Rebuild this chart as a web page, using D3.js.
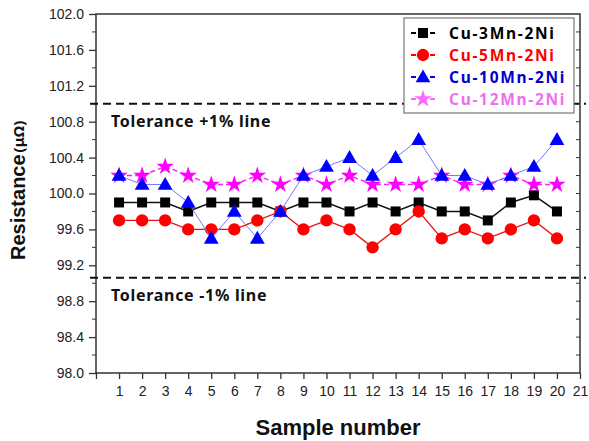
<!DOCTYPE html>
<html>
<head>
<meta charset="utf-8">
<script src="https://cdn.jsdelivr.net/npm/d3@7"></script>
<style>
  body { margin: 0; background: #fff; }
  svg { display: block; }
  .tick-label { font-family: "Liberation Sans", Arial, sans-serif; font-size: 14px; fill: #222; }
  .korean { font-family: "Noto Sans", "Noto Sans CJK KR", sans-serif; font-weight: 700; }
</style>
</head>
<body>
<svg id="chart" width="589" height="441"></svg>
<script>
// Sample numbers on the x axis
const Samples = d3.range(1, 21);
// Series values (resistance, micro-ohm)
const Cu3Mn = [99.9, 99.9, 99.9, 99.8, 99.9, 99.9, 99.9, 99.8, 99.9, 99.9, 99.8, 99.9, 99.8, 99.9, 99.8, 99.8, 99.7, 99.9, 99.98, 99.8];
const Cu5Mn = [99.7, 99.7, 99.7, 99.6, 99.6, 99.6, 99.7, 99.8, 99.6, 99.7, 99.6, 99.4, 99.6, 99.8, 99.5, 99.6, 99.5, 99.6, 99.7, 99.5];
const Cu10Mn = [100.2, 100.1, 100.1, 99.9, 99.5, 99.8, 99.5, 99.8, 100.2, 100.3, 100.4, 100.2, 100.4, 100.6, 100.2, 100.2, 100.1, 100.2, 100.3, 100.6];
const Cu12Mn = [100.2, 100.2, 100.3, 100.2, 100.1, 100.1, 100.2, 100.1, 100.2, 100.1, 100.2, 100.1, 100.1, 100.1, 100.2, 100.1, 100.1, 100.2, 100.1, 100.1];
const SeriesNames = ["Cu-3Mn-2Ni", "Cu-5Mn-2Ni", "Cu-10Mn-2Ni", "Cu-12Mn-2Ni"];
// Tolerance lines
const ToleranceValues = [101.0, 99.06];
const ToleranceLabels = ["Tolerance +1% line", "Tolerance -1% line"];
// Axis ticks
const XTicks = d3.range(0, 22);
const YTicks = d3.range(98, 102.01, 0.4);
const YMinor = d3.range(98.2, 102, 0.4);

var SVG = d3.select("#chart");
var X = d3.scaleLinear().domain([0, 21]).range([96, 580]);
var Y = d3.scaleLinear().domain([98, 102]).range([373, 14]);

// Styles for each series (drawing order: black, red, magenta, blue)
var Styles = [
    { Name: SeriesNames[0], Values: Cu3Mn, Color: "#000", Line: "#111", Width: 1.5, Dash: null, Symbol: d3.symbolSquare, Size: 100, Legend: "#000", LegendMark: "#000" },
    { Name: SeriesNames[1], Values: Cu5Mn, Color: "#ff0000", Line: "#ee1111", Width: 1.3, Dash: null, Symbol: d3.symbolCircle, Size: 120, Legend: "#ff0000", LegendMark: "#ff0000" },
    { Name: SeriesNames[3], Values: Cu12Mn, Color: "#ff00ff", Line: "#ff22ff", Width: 1.5, Dash: "5,3", Symbol: d3.symbolStar, Size: 95, Legend: "#ee70ee", LegendMark: "#ff66ff" },
    { Name: SeriesNames[2], Values: Cu10Mn, Color: "#0000ff", Line: "#7777ff", Width: 1, Dash: null, Symbol: d3.symbolTriangle, Size: 95, Legend: "#0000cc", LegendMark: "#0000ff" }
];

// Frame
SVG.append("rect")
    .attr("x", X(0)).attr("y", Y(102))
    .attr("width", X(21) - X(0)).attr("height", Y(98) - Y(102))
    .attr("fill", "none").attr("stroke", "#333").attr("stroke-width", 1.5);

// Left axis
var LeftAxis = SVG.append("g").attr("transform", `translate(${X(0)},0)`)
    .call(d3.axisLeft(Y).tickValues(YTicks).tickSize(7).tickPadding(5).tickFormat(d3.format(".1f")));
LeftAxis.select(".domain").remove();
LeftAxis.selectAll("line").attr("stroke", "#333").attr("stroke-width", 1.3);
LeftAxis.selectAll("text").attr("class", "tick-label").attr("font-size", null).attr("font-family", null);
SVG.append("g").selectAll("line").data(YMinor).join("line")
    .attr("x1", X(0) - 4).attr("x2", X(0))
    .attr("y1", d => Y(d)).attr("y2", d => Y(d))
    .attr("stroke", "#333").attr("stroke-width", 1);
// Right axis minor ticks (inward)
SVG.append("g").selectAll("line").data(d3.range(98.2, 102, 0.2)).join("line")
    .attr("x1", X(21) - 4).attr("x2", X(21))
    .attr("y1", d => Y(d)).attr("y2", d => Y(d))
    .attr("stroke", "#333").attr("stroke-width", 1);

// Bottom axis
var BottomAxis = SVG.append("g").attr("transform", `translate(0,${Y(98)})`)
    .call(d3.axisBottom(X).tickValues(XTicks).tickSize(6).tickPadding(7).tickFormat(d => d == 0 ? "" : d));
BottomAxis.select(".domain").remove();
BottomAxis.selectAll("line").attr("stroke", "#333").attr("stroke-width", 1.3);
BottomAxis.selectAll("text").attr("class", "tick-label").attr("font-size", null).attr("font-family", null);

// Tolerance lines and labels
ToleranceValues.forEach((Value, Index) => {
    SVG.append("line")
        .attr("x1", X(0) - 6).attr("x2", X(21) + 6)
        .attr("y1", Y(Value)).attr("y2", Y(Value))
        .attr("stroke", "#111").attr("stroke-width", 2).attr("stroke-dasharray", "8,5");
    SVG.append("text").attr("class", "korean")
        .attr("x", X(0) + 15).attr("y", Y(Value) + 23)
        .attr("font-size", 16).attr("letter-spacing", 0.7).attr("fill", "#111")
        .text(ToleranceLabels[Index]);
});

// Series lines and markers
var Line = d3.line().x((D, I) => X(Samples[I])).y(D => Y(D));
Styles.forEach(Style => {
    SVG.append("path")
        .attr("d", Line(Style.Values))
        .attr("fill", "none").attr("stroke", Style.Line)
        .attr("stroke-width", Style.Width)
        .attr("stroke-dasharray", Style.Dash);
    SVG.append("g").selectAll("path").data(Style.Values).join("path")
        .attr("d", d3.symbol().type(Style.Symbol).size(Style.Size))
        .attr("transform", (D, I) => `translate(${X(Samples[I])},${Y(D) + (Style.Symbol == d3.symbolTriangle ? 1 : 0)})`)
        .attr("fill", Style.Color);
});

// Legend
var Legend = SVG.append("g");
Legend.append("rect")
    .attr("x", 404).attr("y", 18).attr("width", 170).attr("height", 95)
    .attr("fill", "#fff").attr("stroke", "#777").attr("stroke-width", 1.2);
var LegendOrder = [Styles[0], Styles[1], Styles[3], Styles[2]];
LegendOrder.forEach((Style, Index) => {
    var RowY = 33 + Index * 22;
    Legend.append("line")
        .attr("x1", 411).attr("x2", 435)
        .attr("y1", RowY).attr("y2", RowY)
        .attr("stroke", Style.LegendMark).attr("stroke-width", 2);
    Legend.append("rect")
        .attr("x", 416).attr("y", RowY - 1.5).attr("width", 14).attr("height", 3).attr("fill", "#fff");
    Legend.append("path")
        .attr("d", d3.symbol().type(Style.Symbol).size(Style.Size))
        .attr("transform", `translate(423,${RowY + (Style.Symbol == d3.symbolTriangle ? 1 : 0)})`)
        .attr("fill", Style.LegendMark);
    Legend.append("text").attr("class", "korean")
        .attr("x", 449).attr("y", RowY + 6)
        .attr("font-size", 15.5).attr("letter-spacing", 1.7).attr("fill", Style.Legend)
        .text(Style.Name);
});

// Axis titles
SVG.append("text")
    .attr("x", 338).attr("y", 435)
    .attr("text-anchor", "middle")
    .attr("font-family", "Liberation Sans, Arial, sans-serif")
    .attr("font-weight", 700).attr("font-size", 22).attr("fill", "#111")
    .text("Sample number");
var YTitle = SVG.append("text")
    .attr("transform", "translate(25,260) rotate(-90)")
    .attr("font-family", "Liberation Sans, Arial, sans-serif")
    .attr("font-weight", 700).attr("font-size", 20).attr("fill", "#111");
YTitle.append("tspan").text("Resistance");
YTitle.append("tspan").attr("class", "korean").attr("font-size", 15).attr("dx", 2).attr("dy", -1).text("(μΩ)");
</script>
</body>
</html>
